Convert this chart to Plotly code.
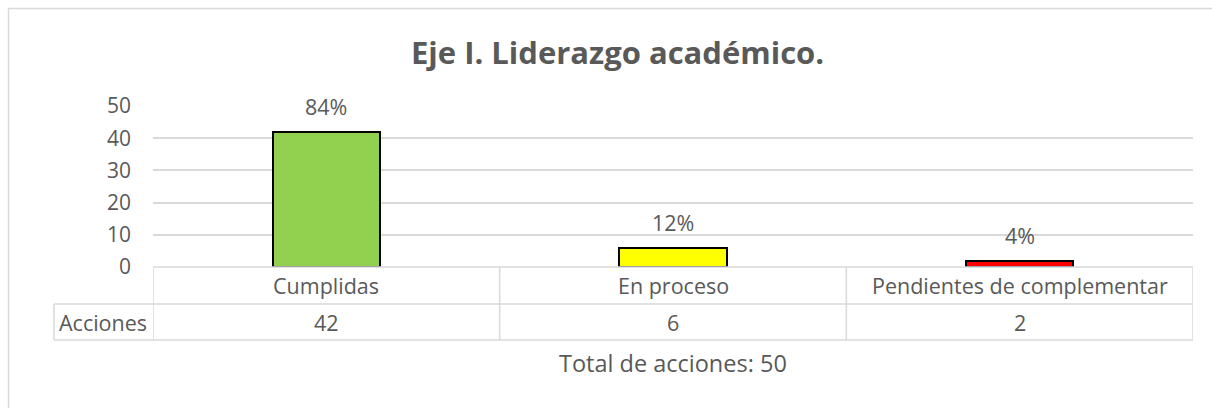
import plotly.graph_objects as go

categories = ["Cumplidas", "En proceso", "Pendientes de complementar"]
acciones = [42, 6, 2]
porcentajes = ["84%", "12%", "4%"]
bar_colors = ["#92D050", "#FFFF00", "#FF0000"]
y_ticks = [0, 10, 20, 30, 40, 50]
title_text = "Eje I. Liderazgo académico."
row_label = "Acciones"
total_text = "Total de acciones: 50"

W, H = 1212, 408
FONT = "Open Sans"
TXT = "#595959"
GRID = "#d9d9d9"
FS = 21.5

x0_px, x1_px = 153, 1193
y_top_px, y_zero_px = 106, 267
row1_bot, row2_bot = 304, 340
acc_left = 54

def px(x):
    return x / W

def py(y):
    return 1 - y / H

xs = list(range(len(categories)))

fig = go.Figure()
fig.add_trace(go.Bar(
    x=xs, y=acciones, width=0.31,
    marker=dict(color=bar_colors, line=dict(color="#000000", width=2)),
    hoverinfo="skip",
))

ann = []
for i, (v, p) in enumerate(zip(acciones, porcentajes)):
    ann.append(dict(x=i, y=v, xref="x", yref="y", text=p, showarrow=False,
                    xanchor="center", yanchor="middle", yshift=25,
                    font=dict(family=FONT, size=FS, color=TXT)))
for i, (c, v) in enumerate(zip(categories, acciones)):
    ann.append(dict(x=i, y=py((y_zero_px + row1_bot) / 2), xref="x", yref="paper",
                    text=c, showarrow=False, xanchor="center", yanchor="middle",
                    font=dict(family=FONT, size=FS, color=TXT)))
    ann.append(dict(x=i, y=py((row1_bot + row2_bot) / 2), xref="x", yref="paper",
                    text=str(v), showarrow=False, xanchor="center", yanchor="middle",
                    font=dict(family=FONT, size=FS, color=TXT)))
ann.append(dict(x=px((acc_left + x0_px) / 2 - 1), y=py((row1_bot + row2_bot) / 2),
                xref="paper", yref="paper", text=row_label, showarrow=False,
                xanchor="center", yanchor="middle", font=dict(family=FONT, size=FS, color=TXT)))
ann.append(dict(x=1, y=py(363), xref="x", yref="paper", text=total_text,
                showarrow=False, xanchor="center", yanchor="middle",
                font=dict(family=FONT, size=23.5, color=TXT)))
ann.append(dict(x=px(617), y=py(52), xref="paper", yref="paper", text="<b>" + title_text + "</b>",
                showarrow=False, xanchor="center", yanchor="middle",
                font=dict(family=FONT, size=31, color=TXT)))

shapes = []
line = dict(color=GRID, width=1.5)
shapes.append(dict(type="rect", xref="paper", yref="paper",
                   x0=px(8.5), x1=px(1230), y0=py(8.5), y1=py(430),
                   line=dict(color="#d9d9d9", width=1.5)))
shapes.append(dict(type="line", xref="paper", yref="paper", x0=px(x0_px), x1=px(x1_px),
                   y0=py(y_zero_px), y1=py(y_zero_px), line=line))
for yy in (row1_bot, row2_bot):
    shapes.append(dict(type="line", xref="paper", yref="paper", x0=px(acc_left), x1=px(x1_px),
                       y0=py(yy), y1=py(yy), line=line))
for xb in [-0.5, 0.5, 1.5, 2.5]:
    shapes.append(dict(type="line", xref="x", yref="paper", x0=xb, x1=xb,
                       y0=py(y_zero_px), y1=py(row2_bot), line=line))
shapes.append(dict(type="line", xref="paper", yref="paper", x0=px(acc_left), x1=px(acc_left),
                   y0=py(row1_bot), y1=py(row2_bot), line=line))

fig.update_layout(
    width=W, height=H, margin=dict(l=0, r=0, t=0, b=0, autoexpand=False),
    paper_bgcolor="white", plot_bgcolor="white",
    showlegend=False, bargap=0,
    xaxis=dict(domain=[px(x0_px), px(x1_px)], range=[-0.5, 2.5], automargin=False,
               showticklabels=False, showgrid=False, zeroline=False, showline=False,
               ticks="", fixedrange=True),
    yaxis=dict(domain=[py(y_zero_px), py(y_top_px)], range=[0, 50], automargin=False,
               tickvals=y_ticks, showgrid=True, gridcolor=GRID, gridwidth=1.5,
               zeroline=False, showline=False, ticks="", ticklabelstandoff=21,
               tickfont=dict(family=FONT, size=21, color=TXT), fixedrange=True),
    annotations=ann, shapes=shapes,
)

fig.write_html("out.html", config={"displayModeBar": False},
               post_script="document.body.style.margin='0';document.body.style.overflow='hidden';")
